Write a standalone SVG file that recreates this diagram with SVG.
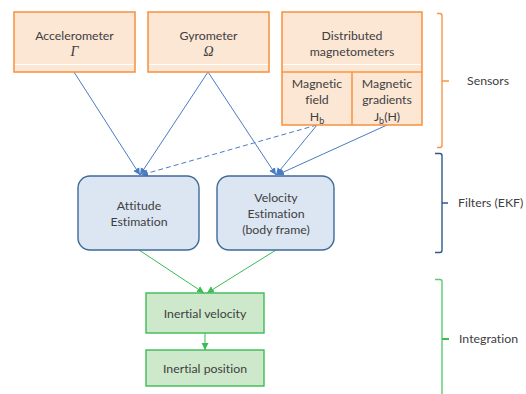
<svg xmlns="http://www.w3.org/2000/svg" width="526" height="394" viewBox="0 0 526 394">
<defs>
<style>
text{font-family:Lato,"Open Sans","Liberation Sans",sans-serif;font-size:12.3px;fill:#404040;text-anchor:middle;font-variant-ligatures:none}
.or{fill:#FCE6D4;stroke:#F79646;stroke-width:1.6}
.bl{fill:#DCE6F2;stroke:#3E6A9A;stroke-width:1.4}
.gr{fill:#CDE8CB;stroke:#3DBB55;stroke-width:1.4}
.gl{stroke:#fff;stroke-width:1.2}
.ab{stroke:#4A7CC4;stroke-width:1;fill:none}
.ag{stroke:#3DBB55;stroke-width:1;fill:none}
.br{fill:none;stroke-width:1.4}
.lbl{text-anchor:start}
</style>
<marker id="mb" markerWidth="8" markerHeight="8" refX="7" refY="4" orient="auto" markerUnits="userSpaceOnUse"><path d="M0,0.5 L7,4 L0,7.5 Z" fill="#4A7CC4"/></marker>
<marker id="mg" markerWidth="8" markerHeight="8" refX="7" refY="4" orient="auto" markerUnits="userSpaceOnUse"><path d="M0,0.5 L7,4 L0,7.5 Z" fill="#3DBB55"/></marker>
</defs>
<g id="connectors">
<line class="ab" x1="74" y1="72" x2="140" y2="175" marker-end="url(#mb)"/>
<line class="ab" x1="208" y1="72" x2="140" y2="175" marker-end="url(#mb)"/>
<line class="ab" x1="208" y1="72" x2="276" y2="175" marker-end="url(#mb)"/>
<line class="ab" x1="317" y1="125" x2="141" y2="175" stroke-dasharray="5,3" marker-end="url(#mb)"/>
<line class="ab" x1="317" y1="125" x2="276" y2="175" marker-end="url(#mb)"/>
<line class="ab" x1="387" y1="125" x2="277" y2="175" marker-end="url(#mb)"/>
<line class="ag" x1="139" y1="250" x2="204" y2="293" marker-end="url(#mg)"/>
<line class="ag" x1="276" y1="250" x2="207" y2="293" marker-end="url(#mg)"/>
<line class="ag" x1="205" y1="333" x2="205" y2="350" marker-end="url(#mg)"/>
</g>
<g id="accelerometer">
<rect class="or" x="14" y="12" width="121" height="60"/>
<line class="gl" x1="15" y1="64.5" x2="134" y2="64.5"/>
<text x="74.5" y="40">Accelerometer</text>
<text x="74.5" y="56" style="font-family:'Liberation Serif',serif;font-style:italic;font-size:14px">Γ</text>
</g>
<g id="gyrometer">
<rect class="or" x="148" y="12" width="121" height="60"/>
<line class="gl" x1="149" y1="64.5" x2="268" y2="64.5"/>
<text x="208.5" y="40">Gyrometer</text>
<text x="208.5" y="56" style="font-family:'Liberation Serif',serif;font-style:italic;font-size:14px">Ω</text>
</g>
<g id="magnetometers">
<rect class="or" x="282" y="12" width="140" height="113"/>
<line class="gl" x1="283" y1="64.5" x2="421" y2="64.5"/>
<line class="or" x1="282" y1="72" x2="422" y2="72"/>
<line class="or" x1="352" y1="72" x2="352" y2="125"/>
<text x="352" y="40">Distributed</text>
<text x="352" y="56">magnetometers</text>
<text x="317" y="88">Magnetic</text>
<text x="317" y="104">field</text>
<text x="317" y="121">H<tspan font-size="9" dy="3">b</tspan></text>
<text x="387" y="88">Magnetic</text>
<text x="387" y="104">gradients</text>
<text x="387" y="121">J<tspan font-size="9" dy="3">b</tspan><tspan dy="-3">(H)</tspan></text>
</g>
<g id="attitude">
<rect class="bl" x="78" y="176" width="121" height="74" rx="12"/>
<text x="139" y="210">Attitude</text>
<text x="139" y="226">Estimation</text>
</g>
<g id="velocity">
<rect class="bl" x="217" y="176" width="117" height="74" rx="12"/>
<text x="276" y="202">Velocity</text>
<text x="276" y="218">Estimation</text>
<text x="276" y="234">(body frame)</text>
</g>
<g id="inertial-velocity">
<rect class="gr" x="146" y="293" width="118" height="40"/>
<text x="205" y="318">Inertial velocity</text>
</g>
<g id="inertial-position">
<rect class="gr" x="146" y="350" width="118" height="36"/>
<text x="205" y="373">Inertial position</text>
</g>
<g id="sensors">
<path class="br" stroke="#F79646" d="M437,13.5 H440 Q442,13.5 442,16 V81 H449 M442,81 V145 Q442,147.5 440,147.5 H437"/>
<text class="lbl" x="467" y="85">Sensors</text>
</g>
<g id="filters">
<path class="br" stroke="#2F5A8A" d="M435,153.5 H440 Q442,153.5 442,156 V203 H448 M442,203 V250 Q442,252.5 440,252.5 H435"/>
<text class="lbl" x="458" y="207">Filters (EKF)</text>
</g>
<g id="integration">
<path class="br" stroke="#5CCB70" d="M435,279.5 H440 Q442,279.5 442,282 V394"/>
<path stroke="#3DBB55" stroke-width="2" d="M442,339 H449"/>
<text class="lbl" x="459" y="343">Integration</text>
</g>
</svg>
